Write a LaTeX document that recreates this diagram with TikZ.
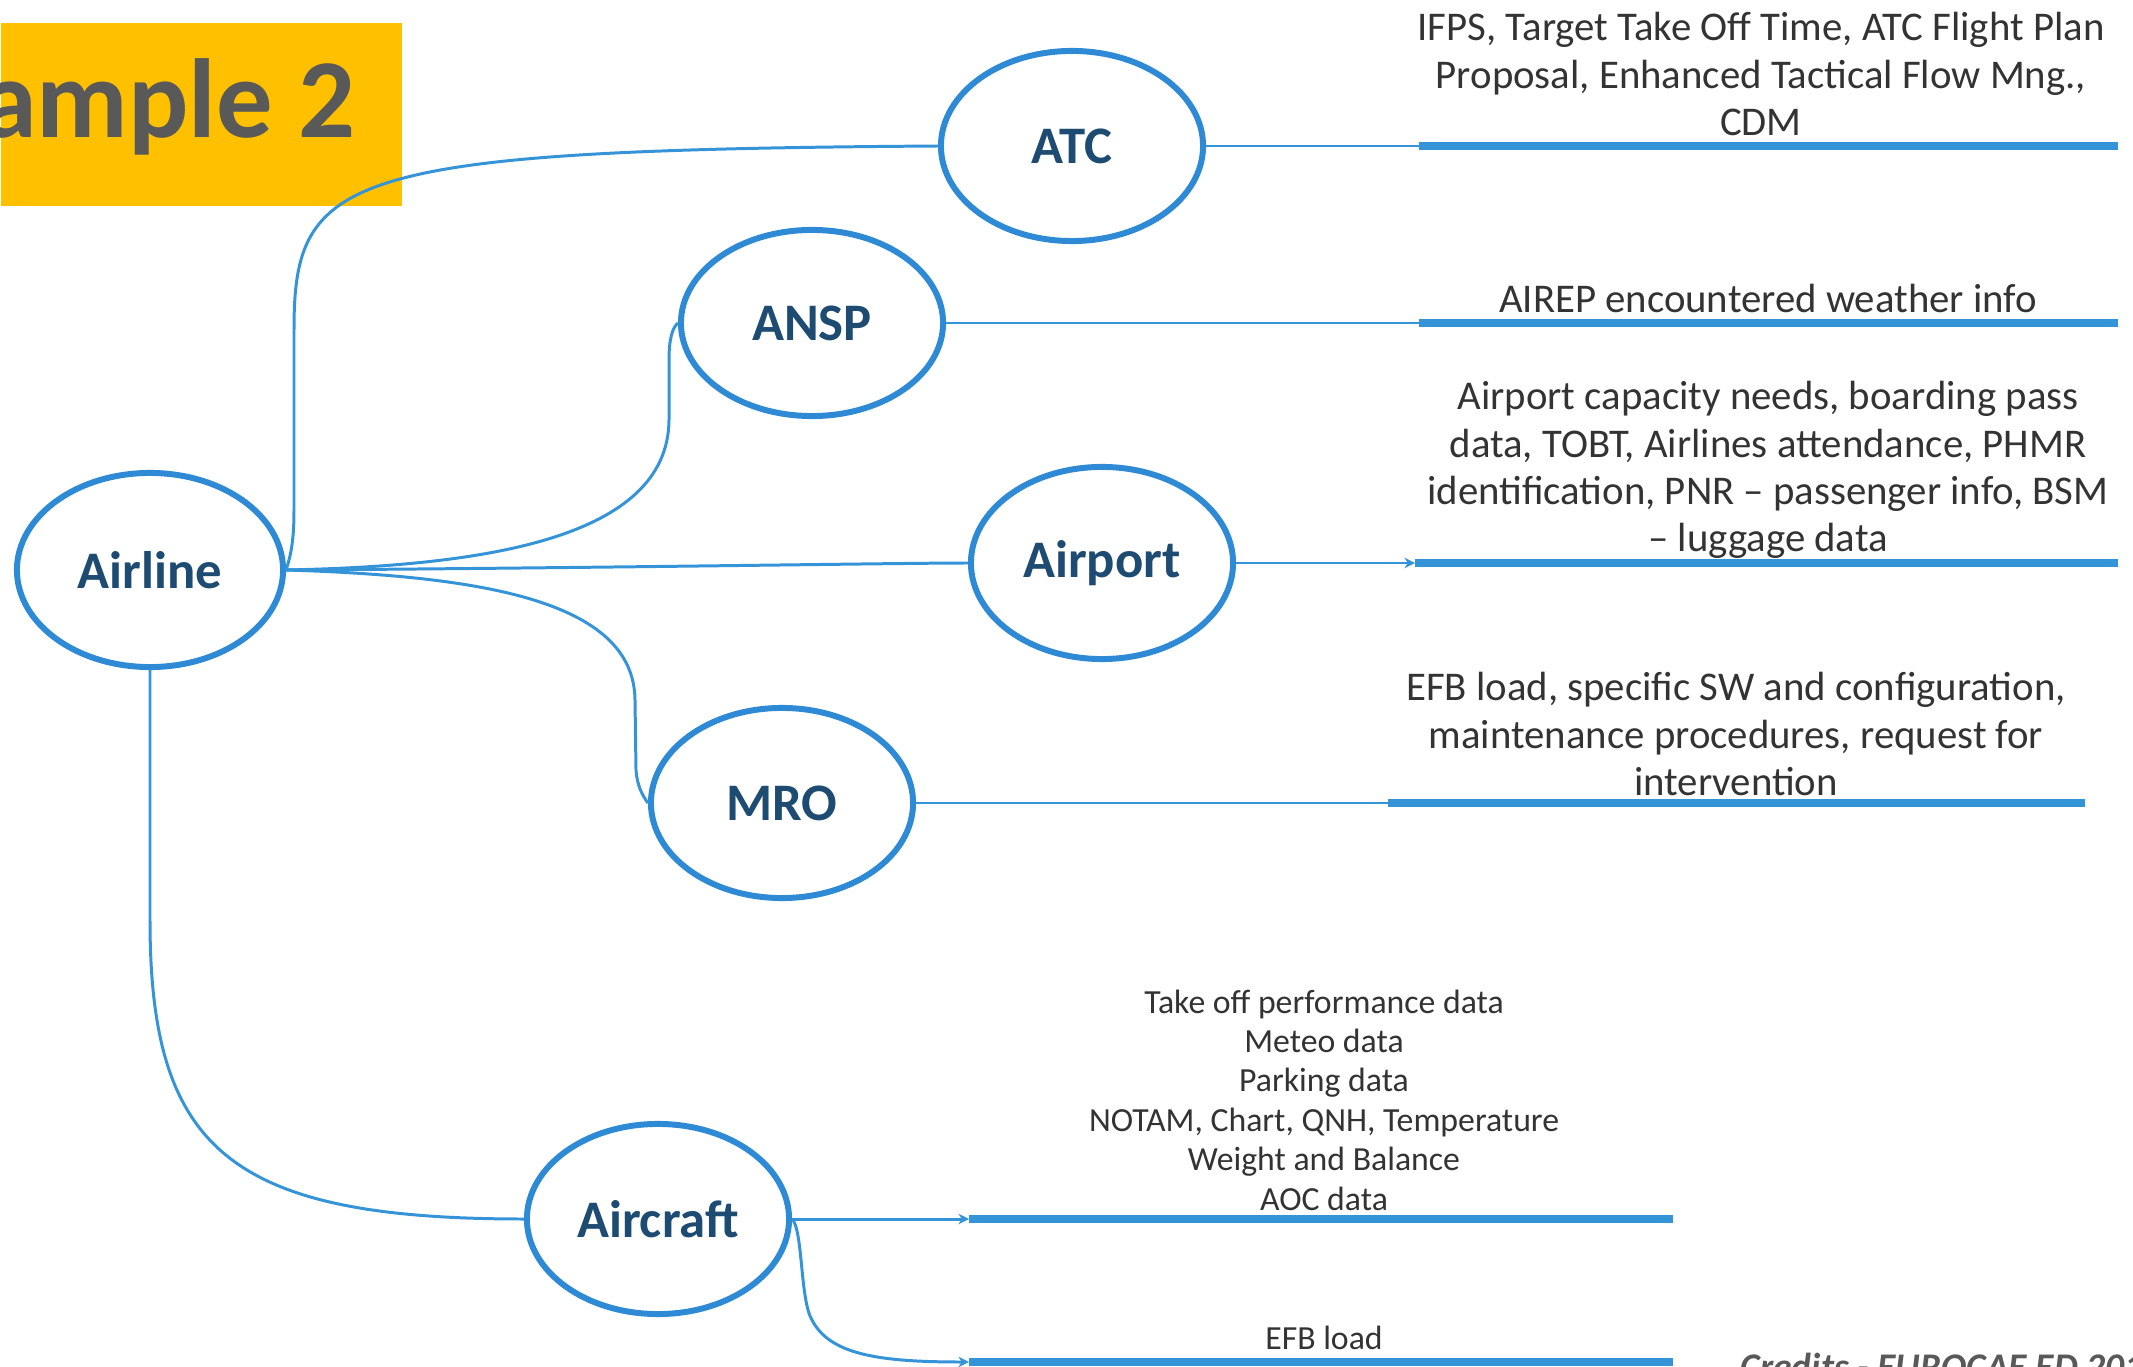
\documentclass[tikz,border=0pt]{standalone}
\usepackage{fontspec}
\setmainfont{Carlito}
\usetikzlibrary{shapes.geometric,arrows.meta}
\definecolor{lnblue}{HTML}{3594D8}
\definecolor{elblue}{HTML}{2E8AD4}
\definecolor{navy}{HTML}{1D4B72}
\definecolor{txt}{HTML}{333333}
\definecolor{gold}{HTML}{FFC000}
\definecolor{titlegray}{HTML}{595959}
\begin{document}
\begin{tikzpicture}[x=0.01cm,y=-0.01cm,
 ent/.style={ellipse, draw=elblue, line width=1.7pt, minimum width=2.62cm, minimum height=1.9cm, inner sep=0pt, font=\fontsize{15}{18}\selectfont\bfseries, text=navy},
 conn/.style={draw=lnblue, line width=0.85pt},
 bar/.style={draw=lnblue, line width=2pt},
 info/.style={align=center, text=txt, font=\fontsize{11.6}{13.4}\selectfont, inner sep=0pt},
 small/.style={align=center, text=txt, font=\fontsize{9.6}{11.2}\selectfont, inner sep=0pt},
 credit/.style={text=titlegray, font=\fontsize{10.7}{12}\selectfont\bfseries\itshape, inner sep=0pt},
 tipped/.style={-{Stealth[length=3pt,width=3pt]}}
]
\useasboundingbox (0,0) rectangle (2133,1367);
\clip (0,0) rectangle (2133,1367);

% title
\node[fill=gold, minimum width=4.01cm, minimum height=1.83cm, anchor=north west, inner sep=0pt] (titlebox) at (0,22) {};
\node[anchor=base east, text=titlegray, font=\fontsize{32}{36}\selectfont\bfseries, inner sep=0pt] (title) at (356,138) {Example 2};

% entities
\node[ent, minimum width=2.66cm, minimum height=1.94cm] (airline) at (150,570) {Airline};
\node[ent] (atc) at (1072,146) {ATC};
\node[ent, minimum height=1.86cm] (ansp) at (812,323) {ANSP};
\node[ent, minimum height=1.92cm] (airport) at (1102,563) {Airport};
\node[ent] (mro) at (782,803) {MRO};
\node[ent] (aircraft) at (658,1219) {Aircraft};

% junction / end points
\coordinate (atcj) at (1419,146);   \coordinate (atce) at (2118,146);
\coordinate (anspj) at (1419,323);  \coordinate (anspe) at (2118,323);
\coordinate (airpj) at (1415,563);  \coordinate (airpe) at (2118,563);
\coordinate (mroj) at (1388,803);   \coordinate (mroe) at (2085,803);
\coordinate (acj) at (969,1219);    \coordinate (ace) at (1673,1219);
\coordinate (efbj) at (969,1362);   \coordinate (efbe) at (1673,1362);

% outgoing lines
\draw[conn] (atc.east) -- (atcj);  \draw[bar] (atcj) -- (atce);
\draw[conn] (ansp.east) -- (anspj); \draw[bar] (anspj) -- (anspe);
\draw[conn,tipped] (airport.east) -- (airpj); \draw[bar] (airpj) -- (airpe);
\draw[conn] (mro.east) -- (mroj); \draw[bar] (mroj) -- (mroe);
\draw[conn,tipped] (aircraft.east) -- (acj); \draw[bar] (acj) -- (ace);
\draw[conn,tipped] (aircraft.east) .. controls (803,1230) and (800,1300) .. (812,1320) .. controls (830,1355) and (880,1362) .. (efbj);
\draw[bar] (efbj) -- (efbe);

% connectors from Airline
\draw[conn] (airline.east) .. controls (291,555) and (294,540) .. (294,510) -- (294,330) .. controls (294,175) and (340,150) .. (atc.west);
\draw[conn] (airline.east) .. controls (480,566) and (668,540) .. (669,420) -- (669,360) .. controls (669,340) and (672,328) .. (ansp.west);
\draw[conn] (airline.east) .. controls (600,568) and (900,563) .. (airport.west);
\draw[conn] (airline.east) .. controls (480,576) and (634,600) .. (635,700) -- (636,770) .. controls (637,785) and (642,795) .. (mro.west);
\draw[conn] (airline.south) -- (150,920) .. controls (150,1150) and (230,1219) .. (aircraft.west);

% labels
\node[info] (atctxt) at (1761,74) {IFPS, Target Take Off Time, ATC Flight Plan\\Proposal, Enhanced Tactical Flow Mng.,\\CDM};
\node[info] (anspTxt) at (1768,298) {AIREP encountered weather info};
\node[info] (airportTxt) at (1768,470) {Airport capacity needs, boarding pass\\data, TOBT, Airlines attendance, PHMR\\identification, PNR – passenger info, BSM\\– luggage data};
\node[info] (mroTxt) at (1736,734) {EFB load, specific SW and configuration,\\maintenance procedures, request for\\intervention};
\node[small] (acTxt) at (1324,1100) {Take off performance data\\Meteo data\\Parking data\\NOTAM, Chart, QNH, Temperature\\Weight and Balance\\AOC data};
\node[small] (efbTxt) at (1324,1338) {EFB load};
\node[credit, anchor=base west] (credits) at (1740,1379) {Credits - EUROCAE ED 201};
\end{tikzpicture}
\end{document}
